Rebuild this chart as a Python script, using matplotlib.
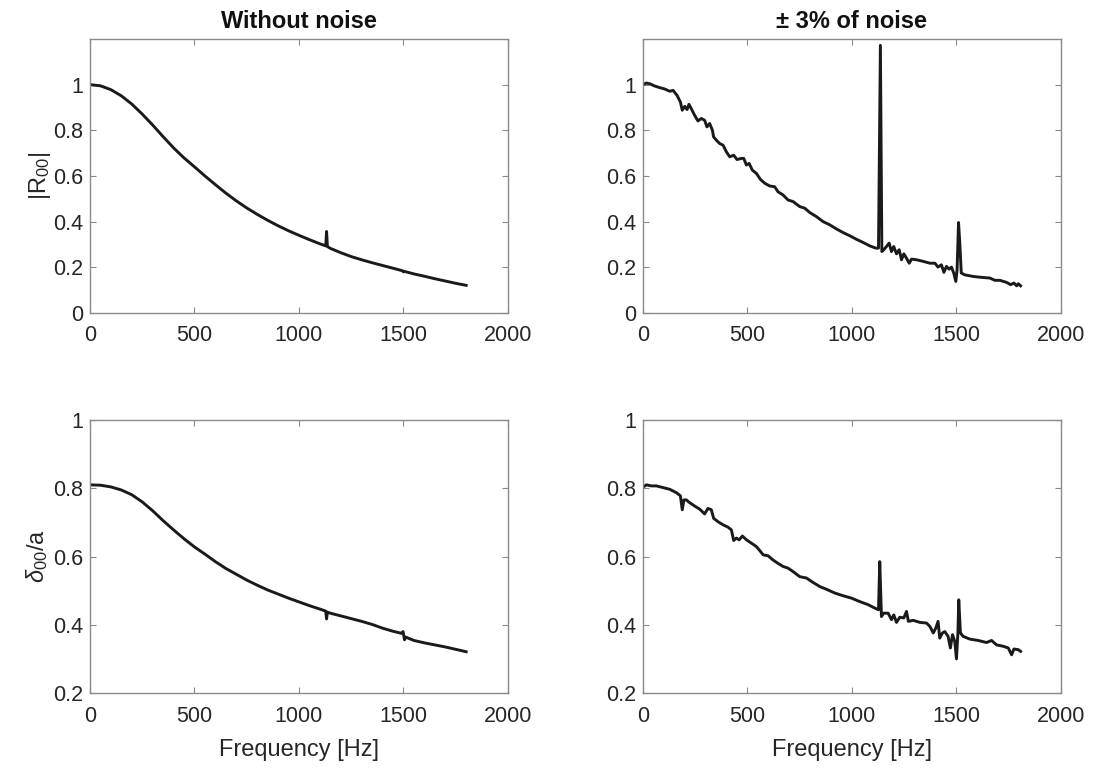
import matplotlib
matplotlib.use('Agg')
import matplotlib.pyplot as plt

# --- data ---
freq_clean_r = [0, 50, 100, 150, 200, 250, 300, 350, 400, 450, 500, 550, 600, 650, 700, 750,
                800, 850, 900, 950, 1000, 1050, 1100, 1128, 1132, 1136, 1150, 1200, 1250, 1300,
                1350, 1400, 1450, 1495, 1500, 1505, 1550, 1600, 1650, 1700, 1750, 1800]
r00_clean = [1.000, 0.995, 0.978, 0.951, 0.915, 0.871, 0.823, 0.772, 0.723, 0.679, 0.640,
             0.600, 0.562, 0.525, 0.491, 0.460, 0.432, 0.406, 0.382, 0.360, 0.340, 0.321,
             0.303, 0.294, 0.357, 0.291, 0.283, 0.264, 0.247, 0.233, 0.220, 0.208, 0.196,
             0.185, 0.180, 0.182, 0.171, 0.161, 0.150, 0.140, 0.130, 0.121]

freq_clean_d = [0, 50, 100, 150, 200, 250, 300, 350, 400, 450, 500, 550, 600, 650, 700, 750,
                800, 850, 900, 950, 1000, 1050, 1100, 1128, 1132, 1136, 1150, 1200, 1250, 1300,
                1350, 1400, 1450, 1490, 1498, 1505, 1510, 1550, 1600, 1650, 1700, 1750, 1800]
d00_clean = [0.810, 0.809, 0.804, 0.795, 0.781, 0.760, 0.734, 0.705, 0.678, 0.652, 0.628,
             0.607, 0.585, 0.565, 0.548, 0.531, 0.516, 0.502, 0.490, 0.478, 0.467, 0.456,
             0.446, 0.440, 0.417, 0.437, 0.434, 0.426, 0.418, 0.410, 0.401, 0.390, 0.381,
             0.375, 0.380, 0.356, 0.364, 0.354, 0.347, 0.341, 0.335, 0.328, 0.321]

freq_noisy_r = [0, 16, 32, 56, 80, 104, 128, 144, 163, 179, 188, 200, 211, 220, 231, 247, 263,
                279, 295, 306, 319, 332, 338, 351, 367, 383, 399, 415, 434, 450, 471, 482, 495,
                508, 523, 543, 562, 583, 607, 630, 646, 670, 694, 718, 750, 774, 798, 830, 862,
                894, 926, 958, 990, 1021, 1053, 1085, 1114, 1127, 1136, 1143, 1152, 1165, 1178,
                1189, 1200, 1213, 1226, 1237, 1248, 1261, 1274, 1285, 1309, 1341, 1373, 1397,
                1412, 1428, 1440, 1452, 1465, 1476, 1487, 1497, 1503, 1510, 1516, 1523, 1540,
                1580, 1620, 1660, 1684, 1708, 1740, 1759, 1775, 1788, 1796, 1807]
r00_noisy = [1.000, 1.007, 1.004, 0.994, 0.987, 0.981, 0.971, 0.975, 0.953, 0.924, 0.888,
             0.905, 0.891, 0.914, 0.895, 0.866, 0.841, 0.852, 0.844, 0.815, 0.830, 0.801,
             0.771, 0.757, 0.742, 0.735, 0.706, 0.684, 0.691, 0.672, 0.677, 0.677, 0.648,
             0.655, 0.626, 0.611, 0.585, 0.568, 0.556, 0.553, 0.531, 0.517, 0.495, 0.488,
             0.466, 0.459, 0.440, 0.422, 0.400, 0.386, 0.368, 0.352, 0.338, 0.323, 0.309,
             0.294, 0.284, 0.284, 1.172, 0.269, 0.277, 0.291, 0.306, 0.269, 0.291, 0.259,
             0.277, 0.233, 0.259, 0.240, 0.218, 0.236, 0.233, 0.226, 0.218, 0.218, 0.201,
             0.211, 0.178, 0.204, 0.192, 0.201, 0.175, 0.138, 0.189, 0.396, 0.306, 0.175,
             0.167, 0.160, 0.156, 0.153, 0.143, 0.143, 0.134, 0.124, 0.131, 0.119, 0.128, 0.119]

freq_noisy_d = [0, 16, 40, 64, 96, 128, 160, 179, 188, 196, 207, 223, 247, 271, 295, 311, 327,
                338, 359, 383, 407, 423, 434, 447, 460, 476, 495, 519, 543, 562, 575, 599, 622,
                646, 670, 694, 718, 750, 782, 814, 846, 878, 918, 958, 998, 1037, 1077, 1109,
                1127, 1133, 1141, 1152, 1173, 1189, 1200, 1213, 1229, 1248, 1261, 1270, 1293,
                1325, 1357, 1373, 1389, 1401, 1412, 1420, 1433, 1444, 1460, 1471, 1481, 1492,
                1500, 1507, 1511, 1519, 1532, 1564, 1604, 1644, 1668, 1692, 1724, 1748, 1764,
                1775, 1796, 1807]
d00_noisy = [0.803, 0.810, 0.807, 0.807, 0.802, 0.797, 0.787, 0.778, 0.737, 0.766, 0.766,
             0.758, 0.748, 0.739, 0.725, 0.741, 0.737, 0.712, 0.702, 0.693, 0.686, 0.678,
             0.647, 0.654, 0.649, 0.660, 0.649, 0.639, 0.629, 0.615, 0.605, 0.602, 0.590,
             0.580, 0.571, 0.566, 0.556, 0.541, 0.537, 0.524, 0.512, 0.504, 0.493, 0.485,
             0.478, 0.468, 0.459, 0.449, 0.444, 0.585, 0.424, 0.434, 0.434, 0.415, 0.429,
             0.407, 0.422, 0.420, 0.439, 0.410, 0.413, 0.407, 0.405, 0.395, 0.376, 0.390,
             0.410, 0.361, 0.376, 0.380, 0.366, 0.332, 0.371, 0.351, 0.300, 0.376, 0.473,
             0.376, 0.366, 0.358, 0.354, 0.348, 0.354, 0.341, 0.337, 0.332, 0.312, 0.329,
             0.327, 0.322]

xticks = [0, 500, 1000, 1500, 2000]
xtick_labels = ['0', '500', '1000', '1500', '2000']
r_yticks = [0, 0.2, 0.4, 0.6, 0.8, 1.0]
r_ytick_labels = ['0', '0.2', '0.4', '0.6', '0.8', '1']
d_yticks = [0.2, 0.4, 0.6, 0.8, 1.0]
d_ytick_labels = ['0.2', '0.4', '0.6', '0.8', '1']

plt.rcParams['font.family'] = ['Liberation Sans', 'DejaVu Sans']
plt.rcParams['mathtext.fontset'] = 'custom'
plt.rcParams['mathtext.rm'] = 'Liberation Sans'
plt.rcParams['mathtext.it'] = 'Liberation Sans:italic'

text_col = '#262626'
spine_col = '#8a8a8a'
line_col = '#1a1a1a'
tick_fs = 15.5
label_fs = 17

fig = plt.figure(figsize=(10.95, 7.69), dpi=100)
axs = [[fig.add_axes([0.0822, 0.593, 0.3817, 0.3563]), fig.add_axes([0.5872, 0.593, 0.3817, 0.3563])],
       [fig.add_axes([0.0822, 0.0988, 0.3817, 0.355]), fig.add_axes([0.5872, 0.0988, 0.3817, 0.355])]]

axs[0][0].plot(freq_clean_r, r00_clean, color=line_col, lw=2.1)
axs[0][1].plot(freq_noisy_r, r00_noisy, color=line_col, lw=2.1)
axs[1][0].plot(freq_clean_d, d00_clean, color=line_col, lw=2.1)
axs[1][1].plot(freq_noisy_d, d00_noisy, color=line_col, lw=2.1)

for row in axs:
    for ax in row:
        ax.set_xlim(0, 2000)
        ax.set_xticks(xticks)
        ax.set_xticklabels(xtick_labels)
        ax.tick_params(direction='in', top=True, right=True, length=4, width=0.8,
                       color=spine_col, labelcolor=text_col, labelsize=tick_fs)
        ax.tick_params(axis='x', pad=9)
        ax.tick_params(axis='y', pad=5)
        for s in ax.spines.values():
            s.set_color(spine_col)
            s.set_linewidth(1.0)

for ax in axs[0]:
    ax.set_ylim(0, 1.2)
    ax.set_yticks(r_yticks)
    ax.set_yticklabels(r_ytick_labels)
for ax in axs[1]:
    ax.set_ylim(0.2, 1.0)
    ax.set_yticks(d_yticks)
    ax.set_yticklabels(d_ytick_labels)
    ax.set_xlabel('Frequency [Hz]', fontsize=label_fs, color=text_col, labelpad=9)

axs[0][0].set_ylabel('|R$_{00}$|', fontsize=label_fs, color=text_col, labelpad=0)
axs[1][0].set_ylabel(r'$\delta_{00}$/a', fontsize=label_fs, color=text_col, labelpad=2)
axs[0][0].set_title('Without noise', fontsize=label_fs, fontweight='bold', color='#111111', pad=8)
axs[0][1].set_title('± 3% of noise', fontsize=label_fs, fontweight='bold', color='#111111', pad=8)

fig.savefig('out.png', dpi=100)
